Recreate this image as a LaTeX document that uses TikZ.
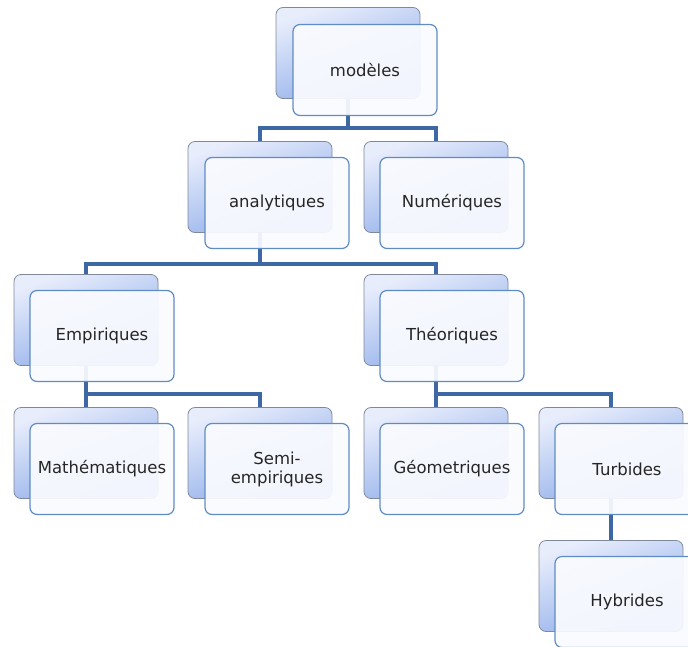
\documentclass[tikz,border=0pt]{standalone}
\usepackage{fontspec}
\setmainfont{DejaVu Sans}
\usepackage{tikz}
\usetikzlibrary{positioning}

\definecolor{linkblue}{RGB}{62,104,164}
\definecolor{frameblue}{RGB}{96,140,196}
\definecolor{backtop}{RGB}{232,237,252}
\definecolor{backbot}{RGB}{138,170,232}
\definecolor{backrim}{RGB}{128,136,156}
\definecolor{frontfill}{RGB}{250,251,255}

\tikzset{
  backbox/.style={draw=backrim, line width=.8pt, rounded corners=7pt,
    top color=backtop, bottom color=backbot, shading angle=20,
    minimum width=144pt, minimum height=91pt, inner sep=0pt},
  frontbox/.style={draw=frameblue, line width=1.2pt, rounded corners=7pt,
    fill=frontfill, fill opacity=.93, text opacity=1, text=black!85,
    minimum width=144pt, minimum height=91pt, inner sep=0pt,
    align=center, font=\fontsize{16.5}{19}\selectfont},
  link/.style={draw=linkblue, line width=4pt, line join=miter}
}

\begin{document}
\begin{tikzpicture}[x=1pt, y=-1pt]
\useasboundingbox (0,0) rectangle (688,646);
% back boxes
\node[backbox] (modB) at (348,53) {};
\node[backbox] (anaB) at (260,187) {};
\node[backbox] (numB) at (436,187) {};
\node[backbox] (empB) at (86,320) {};
\node[backbox] (theB) at (436,320) {};
\node[backbox] (matB) at (86,453) {};
\node[backbox] (semB) at (260,453) {};
\node[backbox] (geoB) at (436,453) {};
\node[backbox] (turB) at (611,453) {};
\node[backbox] (hybB) at (611,586) {};
% links
\draw[link] (modB.south) -- ++(0,29) -| (anaB.north);
\draw[link] (modB.south) -- ++(0,29) -| (numB.north);
\draw[link] (anaB.south) -- ++(0,31) -| (empB.north);
\draw[link] (anaB.south) -- ++(0,31) -| (theB.north);
\draw[link] (empB.south) -- ++(0,28) -| (matB.north);
\draw[link] (empB.south) -- ++(0,28) -| (semB.north);
\draw[link] (theB.south) -- ++(0,28) -| (geoB.north);
\draw[link] (theB.south) -- ++(0,28) -| (turB.north);
\draw[link] (turB.south) -- (hybB.north);
% front boxes
\node[frontbox] (mod) at (365,70) {modèles};
\node[frontbox] (ana) at (277,203) {analytiques};
\node[frontbox] (num) at (452,203) {Numériques};
\node[frontbox] (emp) at (102,336) {Empiriques};
\node[frontbox] (the) at (452,336) {Théoriques};
\node[frontbox] (mat) at (102,469) {Mathématiques};
\node[frontbox] (sem) at (277,469) {Semi-\\empiriques};
\node[frontbox] (geo) at (452,469) {Géometriques};
\node[frontbox] (tur) at (627,469) {Turbides};
\node[frontbox] (hyb) at (627,602) {Hybrides};
\end{tikzpicture}
\end{document}
